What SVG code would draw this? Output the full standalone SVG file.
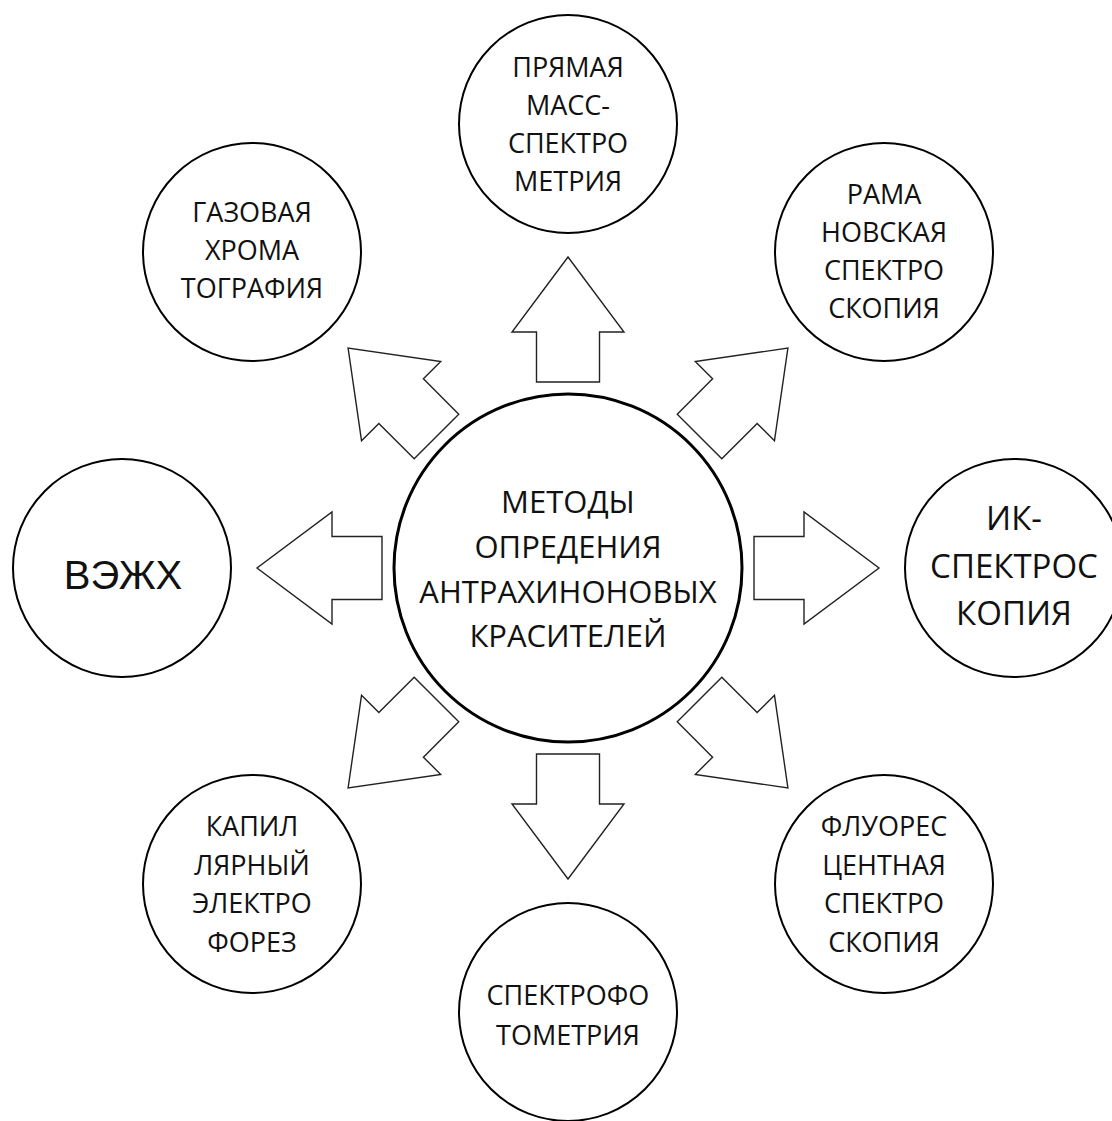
<svg xmlns="http://www.w3.org/2000/svg" width="1112" height="1121" viewBox="0 0 1112 1121">
<style>
.node circle{fill:#fff;stroke:#000;stroke-width:2}
#center circle{stroke-width:3}
text{font-family:"Open Sans","Noto Sans",sans-serif;font-size:27px;fill:#111;text-anchor:middle}
.big{font-size:31px}
.ik{font-size:33px}
.vezh{font-family:"Liberation Sans",Arial,sans-serif;font-size:40px}
.arr{fill:#fff;stroke:#222;stroke-width:1.4;stroke-linejoin:miter}
</style>
<defs>
<path id="arrow" d="M0,-31.5 L50,-31.5 L50,-56 L125,0 L50,56 L50,31.5 L0,31.5 Z"/>
</defs>
<rect width="1112" height="1121" fill="#fff"/>
<g id="connectors">
<use href="#arrow" class="arr" transform="translate(568 568) rotate(-90) translate(186 0)"/>
<use href="#arrow" class="arr" transform="translate(568 568) rotate(-45) translate(186 0)"/>
<use href="#arrow" class="arr" transform="translate(568 568) rotate(0) translate(186 0)"/>
<use href="#arrow" class="arr" transform="translate(568 568) rotate(45) translate(186 0)"/>
<use href="#arrow" class="arr" transform="translate(568 568) rotate(90) translate(186 0)"/>
<use href="#arrow" class="arr" transform="translate(568 568) rotate(135) translate(186 0)"/>
<use href="#arrow" class="arr" transform="translate(568 568) rotate(180) translate(186 0)"/>
<use href="#arrow" class="arr" transform="translate(568 568) rotate(-135) translate(186 0)"/>
</g>
<g id="center" class="node">
<circle cx="568" cy="568" r="174"/>
<text class="big" x="568" y="513">МЕТОДЫ</text>
<text class="big" x="568" y="558">ОПРЕДЕНИЯ</text>
<text class="big" x="568" y="603">АНТРАХИНОНОВЫХ</text>
<text class="big" x="568" y="647">КРАСИТЕЛЕЙ</text>
</g>
<g id="top" class="node">
<circle cx="568" cy="124" r="109"/>
<text x="568" y="77">ПРЯМАЯ</text>
<text x="568" y="115">МАСС-</text>
<text x="568" y="153">СПЕКТРО</text>
<text x="568" y="191">МЕТРИЯ</text>
</g>
<g id="upper-right" class="node">
<circle cx="884" cy="252" r="109"/>
<text x="884" y="204">РАМА</text>
<text x="884" y="242">НОВСКАЯ</text>
<text x="884" y="280">СПЕКТРО</text>
<text x="884" y="318">СКОПИЯ</text>
</g>
<g id="right" class="node">
<circle cx="1014" cy="568" r="109"/>
<text class="ik" x="1014" y="530">ИК-</text>
<text class="ik" x="1014" y="578">СПЕКТРОС</text>
<text class="ik" x="1014" y="625">КОПИЯ</text>
</g>
<g id="lower-right" class="node">
<circle cx="884" cy="884" r="109"/>
<text x="884" y="836">ФЛУОРЕС</text>
<text x="884" y="875">ЦЕНТНАЯ</text>
<text x="884" y="913">СПЕКТРО</text>
<text x="884" y="952">СКОПИЯ</text>
</g>
<g id="bottom" class="node">
<circle cx="568" cy="1012" r="109"/>
<text x="568" y="1005">СПЕКТРОФО</text>
<text x="568" y="1045">ТОМЕТРИЯ</text>
</g>
<g id="lower-left" class="node">
<circle cx="252" cy="884" r="109"/>
<text x="252" y="836">КАПИЛ</text>
<text x="252" y="875">ЛЯРНЫЙ</text>
<text x="252" y="913">ЭЛЕКТРО</text>
<text x="252" y="952">ФОРЕЗ</text>
</g>
<g id="left" class="node">
<circle cx="122" cy="568" r="109"/>
<text class="vezh" x="123" y="589">ВЭЖХ</text>
</g>
<g id="upper-left" class="node">
<circle cx="252" cy="252" r="109"/>
<text x="252" y="222">ГАЗОВАЯ</text>
<text x="252" y="260">ХРОМА</text>
<text x="252" y="298">ТОГРАФИЯ</text>
</g>
</svg>
